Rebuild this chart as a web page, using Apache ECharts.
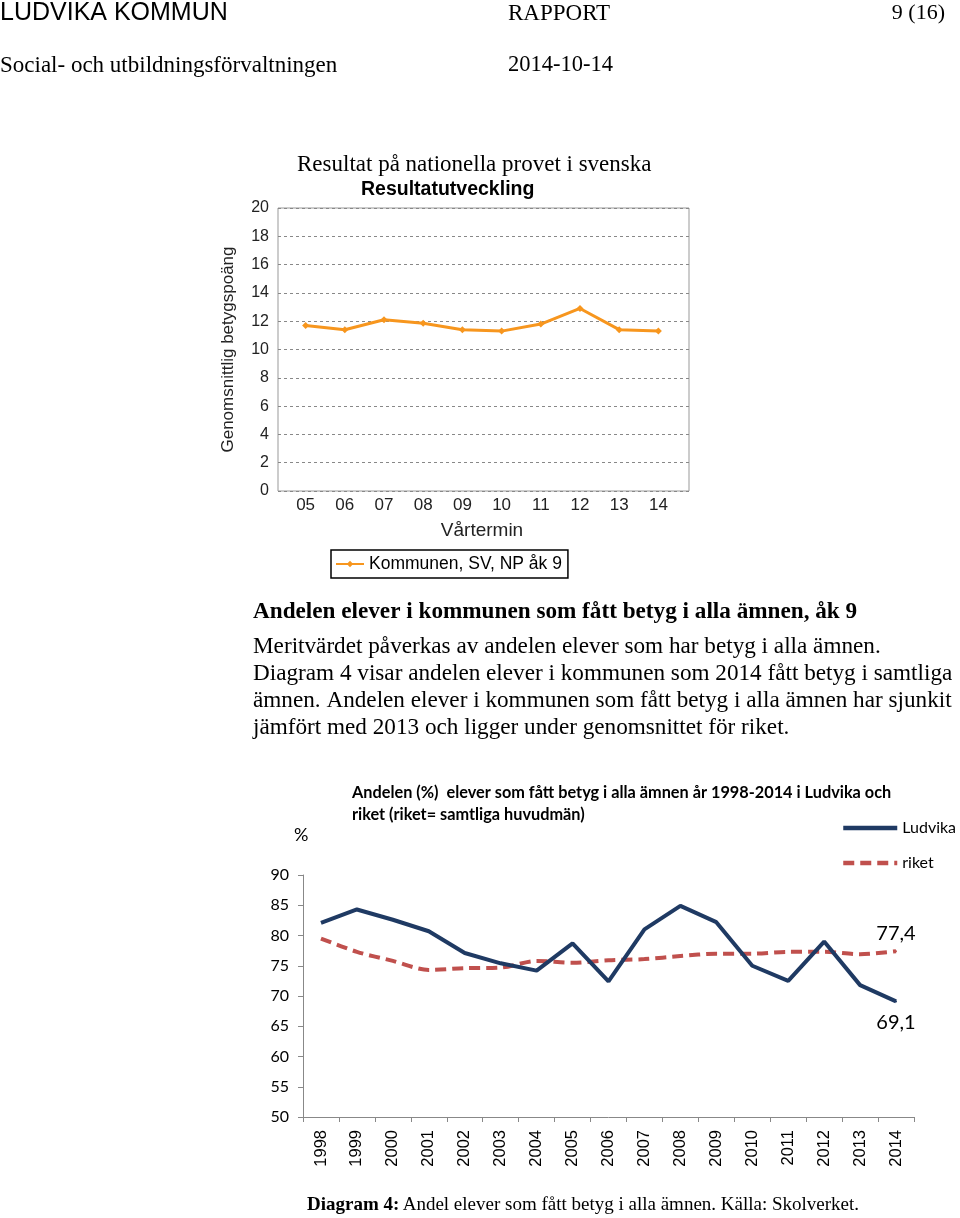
<!DOCTYPE html>
<html><head><meta charset="utf-8">
<script src="https://cdn.jsdelivr.net/npm/echarts@6/dist/echarts.min.js"></script>
<style>html,body{margin:0;padding:0;background:#fff}#c{width:960px;height:1218px}</style>
</head><body><div id="c"></div>
<script>
// ---- data ----
const topCategories = ['05','06','07','08','09','10','11','12','13','14'];
const topValues = [11.7, 11.4, 12.1, 11.85, 11.4, 11.3, 11.8, 12.9, 11.4, 11.3];
const topSeriesName = 'Kommunen, SV, NP åk 9';

const years = ['1998','1999','2000','2001','2002','2003','2004','2005','2006','2007','2008','2009','2010','2011','2012','2013','2014'];
const ludvika = [82.1, 84.3, 82.6, 80.7, 77.1, 75.4, 74.2, 78.7, 72.4, 81.0, 84.9, 82.2, 75.0, 72.5, 79.0, 71.8, 69.1];
const riket = [79.5, 77.3, 75.8, 74.3, 74.6, 74.7, 75.8, 75.5, 75.9, 76.1, 76.6, 77.0, 77.0, 77.3, 77.3, 76.9, 77.4];

const serif = '"Liberation Serif", "Times New Roman", serif';
const sans = '"Liberation Sans", Arial, sans-serif';
const cal = 'Lato, "Open Sans", sans-serif';

function lastLabel(arr, pos, color) {
  return arr.map((v, i) => i === arr.length - 1
    ? { value: v, symbol: 'circle', symbolSize: 2, itemStyle: { color: color },
        label: { show: true, position: pos, distance: pos === 'top' ? 7 : 10,
          formatter: p => String(p.value).replace('.', ','), fontFamily: cal, fontSize: 20, color: '#000' } }
    : v);
}

const chart = echarts.init(document.getElementById('c'), null, { renderer: 'canvas' });
chart.setOption({
  backgroundColor: '#fff',
  animation: false,
  graphic: [
    { type: 'text', left: 0, top: 1, style: { text: 'LUDVIKA KOMMUN', font: '25px ' + sans, fill: '#000' } },
    { type: 'text', left: 508, top: 2, style: { text: 'RAPPORT', font: '23px ' + serif, fill: '#000' } },
    { type: 'text', right: 15, top: 2, style: { text: '9 (16)', font: '22px ' + serif, fill: '#000' } },
    { type: 'text', left: 0, top: 54, style: { text: 'Social- och utbildningsförvaltningen', font: '23px ' + serif, fill: '#000' } },
    { type: 'text', left: 508, top: 54, style: { text: '2014-10-14', font: '22.5px ' + serif, fill: '#000' } },
    { type: 'text', left: 297, top: 153, style: { text: 'Resultat på nationella provet i svenska', font: '23px ' + serif, fill: '#000' } },
    { type: 'text', left: 253, top: 601, style: { text: 'Andelen elever i kommunen som fått betyg i alla ämnen, åk 9', font: 'bold 23.2px ' + serif, fill: '#000' } },
    { type: 'text', left: 253, top: 635, style: { text: 'Meritvärdet påverkas av andelen elever som har betyg i alla ämnen.', font: '23.2px ' + serif, fill: '#000' } },
    { type: 'text', left: 253, top: 662, style: { text: 'Diagram 4 visar andelen elever i kommunen som 2014 fått betyg i samtliga', font: '23.2px ' + serif, fill: '#000' } },
    { type: 'text', left: 253, top: 689, style: { text: 'ämnen. Andelen elever i kommunen som fått betyg i alla ämnen har sjunkit', font: '23.2px ' + serif, fill: '#000' } },
    { type: 'text', left: 253, top: 716, style: { text: 'jämfört med 2013 och ligger under genomsnittet för riket.', font: '23.2px ' + serif, fill: '#000' } },
    { type: 'text', left: 352, top: 782, style: { text: 'Andelen (%)  elever som fått betyg i alla ämnen år 1998-2014 i Ludvika och\nriket (riket= samtliga huvudmän)', font: 'bold 16.3px ' + cal, lineHeight: 22, fill: '#000' } },
    { type: 'text', left: 294, top: 826, style: { text: '%', font: '18px ' + cal, fill: '#000' } },
    { type: 'text', left: 307, top: 1196, style: { rich: { b: { fontFamily: serif, fontWeight: 'bold', fontSize: 19 }, n: { fontFamily: serif, fontSize: 19 } }, text: '{b|Diagram 4:} {n|Andel elever som fått betyg i alla ämnen. Källa: Skolverket.}', fill: '#000' } }
  ],
  title: {
    text: 'Resultatutveckling', left: 361, top: 180,
    textStyle: { fontFamily: sans, fontWeight: 'bold', fontSize: 19.5, color: '#000' }, padding: 0
  },
  legend: [
    {
      data: [topSeriesName], left: 331, top: 550, orient: 'horizontal',
      borderColor: '#000', borderWidth: 1.5, padding: [5, 6, 5, 4],
      itemWidth: 28, itemHeight: 8, itemGap: 4,
      textStyle: { fontFamily: sans, fontSize: 17.5, color: '#000' }
    },
    {
      data: ['Ludvika', 'riket'], left: 836, top: 815, orient: 'vertical',
      itemWidth: 54, itemHeight: 12, itemGap: 19,
      itemStyle: { opacity: 0 },
      lineStyle: { width: 4.5 },
      textStyle: { fontFamily: cal, fontSize: 16, color: '#000' }
    }
  ],
  grid: [
    { left: 278, top: 208, width: 411, height: 283, show: true, borderColor: '#999', borderWidth: 1 },
    { left: 286, top: 208, width: 392, height: 283 },
    { left: 303, top: 875, width: 611, height: 242 }
  ],
  xAxis: [
    { gridIndex: 0, type: 'value', show: false, min: 0, max: 1 },
    {
      gridIndex: 1, type: 'category', data: topCategories, boundaryGap: true,
      axisLine: { show: false }, axisTick: { show: false },
      axisLabel: { fontFamily: sans, fontSize: 17, color: '#222', margin: 6 },
      name: 'Vårtermin', nameLocation: 'middle', nameGap: 30,
      nameTextStyle: { fontFamily: sans, fontSize: 19, color: '#222' }
    },
    {
      gridIndex: 2, type: 'category', data: years, boundaryGap: true,
      axisLine: { lineStyle: { color: '#888', width: 1 } },
      axisTick: { show: true, length: 5, lineStyle: { color: '#888' } },
      axisLabel: { rotate: 90, fontFamily: sans, fontSize: 16.5, color: '#000', margin: 13 }
    }
  ],
  yAxis: [
    {
      gridIndex: 0, type: 'value', min: 0, max: 20, interval: 2,
      axisLine: { show: false }, axisTick: { show: false },
      splitLine: { show: true, lineStyle: { color: '#888', type: [3, 3], width: 1 } },
      axisLabel: { fontFamily: sans, fontSize: 16, color: '#222', margin: 9 },
      name: 'Genomsnittlig betygspoäng', nameLocation: 'middle', nameRotate: 90, nameGap: 41,
      nameTextStyle: { fontFamily: sans, fontSize: 17, color: '#222' }
    },
    { gridIndex: 1, type: 'value', min: 0, max: 20, show: false },
    {
      gridIndex: 2, type: 'value', min: 50, max: 90, interval: 5,
      axisLine: { show: true, lineStyle: { color: '#888', width: 1 } },
      axisTick: { show: true, length: 5, lineStyle: { color: '#888' } },
      splitLine: { show: false },
      axisLabel: { fontFamily: cal, fontSize: 16, color: '#000', margin: 14 }
    }
  ],
  series: [
    {
      name: topSeriesName, type: 'line', xAxisIndex: 1, yAxisIndex: 1, data: topValues,
      color: '#F7961E', lineStyle: { color: '#F7961E', width: 3 },
      symbol: 'diamond', symbolSize: 7, itemStyle: { color: '#F7961E' }
    },
    {
      name: 'Ludvika', type: 'line', xAxisIndex: 2, yAxisIndex: 2, data: lastLabel(ludvika, 'bottom', '#1F3A63'),
      color: '#1F3A63', lineStyle: { color: '#1F3A63', width: 4 }, symbol: 'none', z: 3
    },
    {
      name: 'riket', type: 'line', xAxisIndex: 2, yAxisIndex: 2, data: lastLabel(riket, 'top', '#C0504D'),
      color: '#C0504D', lineStyle: { color: '#C0504D', width: 4, type: [11, 6] }, symbol: 'none', smooth: 0.3, z: 2
    }
  ]
});
</script></body></html>
